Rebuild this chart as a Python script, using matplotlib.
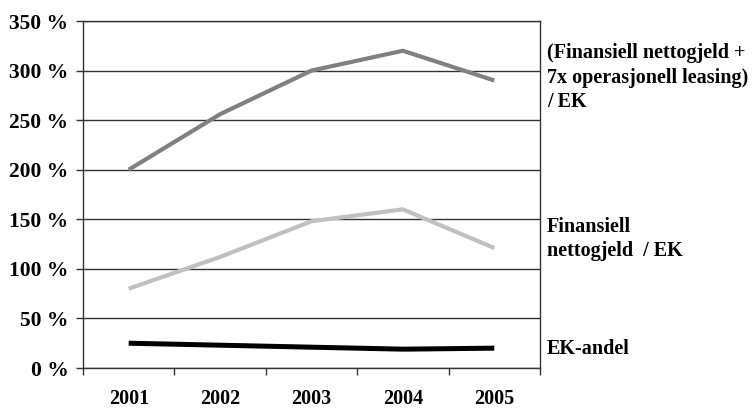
import matplotlib
matplotlib.use("Agg")
import matplotlib.pyplot as plt
from matplotlib.ticker import FixedLocator, FuncFormatter

years = ["2001", "2002", "2003", "2004", "2005"]
leasing_ratio = [200, 256, 300, 320, 290]
netdebt_ratio = [80, 112, 148, 160, 121]
equity_share = [25, 23, 21, 19, 20]
series_labels = ["(Finansiell nettogjeld +\n7x operasjonell leasing)\n/ EK",
                 "Finansiell\nnettogjeld  / EK",
                 "EK-andel"]
yticks = [0, 50, 100, 150, 200, 250, 300, 350]

plt.rcParams['font.family'] = ['Liberation Serif', 'DejaVu Serif']
plt.rcParams['font.weight'] = 'bold'

fig = plt.figure(figsize=(7.56, 4.09), dpi=100)
ax = fig.add_axes([83/756, 41/409, 457/756, 347/409])

x = list(range(len(years)))
ax.plot(x, leasing_ratio, color='#808080', lw=3.0, solid_capstyle='butt')
ax.plot(x, netdebt_ratio, color='#c0c0c0', lw=3.0, solid_capstyle='butt')
ax.plot(x, equity_share, color='#000000', lw=3.6, solid_capstyle='butt')

ax.set_xlim(-0.5, len(years) - 0.5)
ax.set_ylim(0, 350)
ax.set_yticks(yticks)
ax.yaxis.set_major_formatter(FuncFormatter(lambda v, p: f"{int(v)} %"))
ax.set_xticks(x)
ax.set_xticklabels(years)
ax.xaxis.set_minor_locator(FixedLocator([i - 0.5 for i in range(len(years) + 1)]))
ax.tick_params(axis='x', which='major', length=0, pad=15, labelsize=14.5)
ax.tick_params(axis='x', which='minor', length=5, width=1, color='#333333', direction='out')
ax.tick_params(axis='y', length=5, width=1, color='#333333', direction='out', pad=5.5, labelsize=15.5)
for lbl in ax.get_xticklabels() + ax.get_yticklabels():
    lbl.set_fontweight('bold')

ax.grid(axis='y', color='#333333', lw=1)
ax.set_axisbelow(True)
for s in ['left', 'right', 'bottom', 'top']:
    ax.spines[s].set_color('#333333')
    ax.spines[s].set_linewidth(1)

label_y = [293, 130, 19]
for txt, yv in zip(series_labels, label_y):
    ax.annotate(txt, xy=(1.0, yv), xycoords=('axes fraction', 'data'),
                xytext=(7, 0), textcoords='offset pixels',
                ha='left', va='center', fontsize=14.5, fontweight='bold',
                linespacing=1.3)

fig.savefig("out.png", dpi=100)
